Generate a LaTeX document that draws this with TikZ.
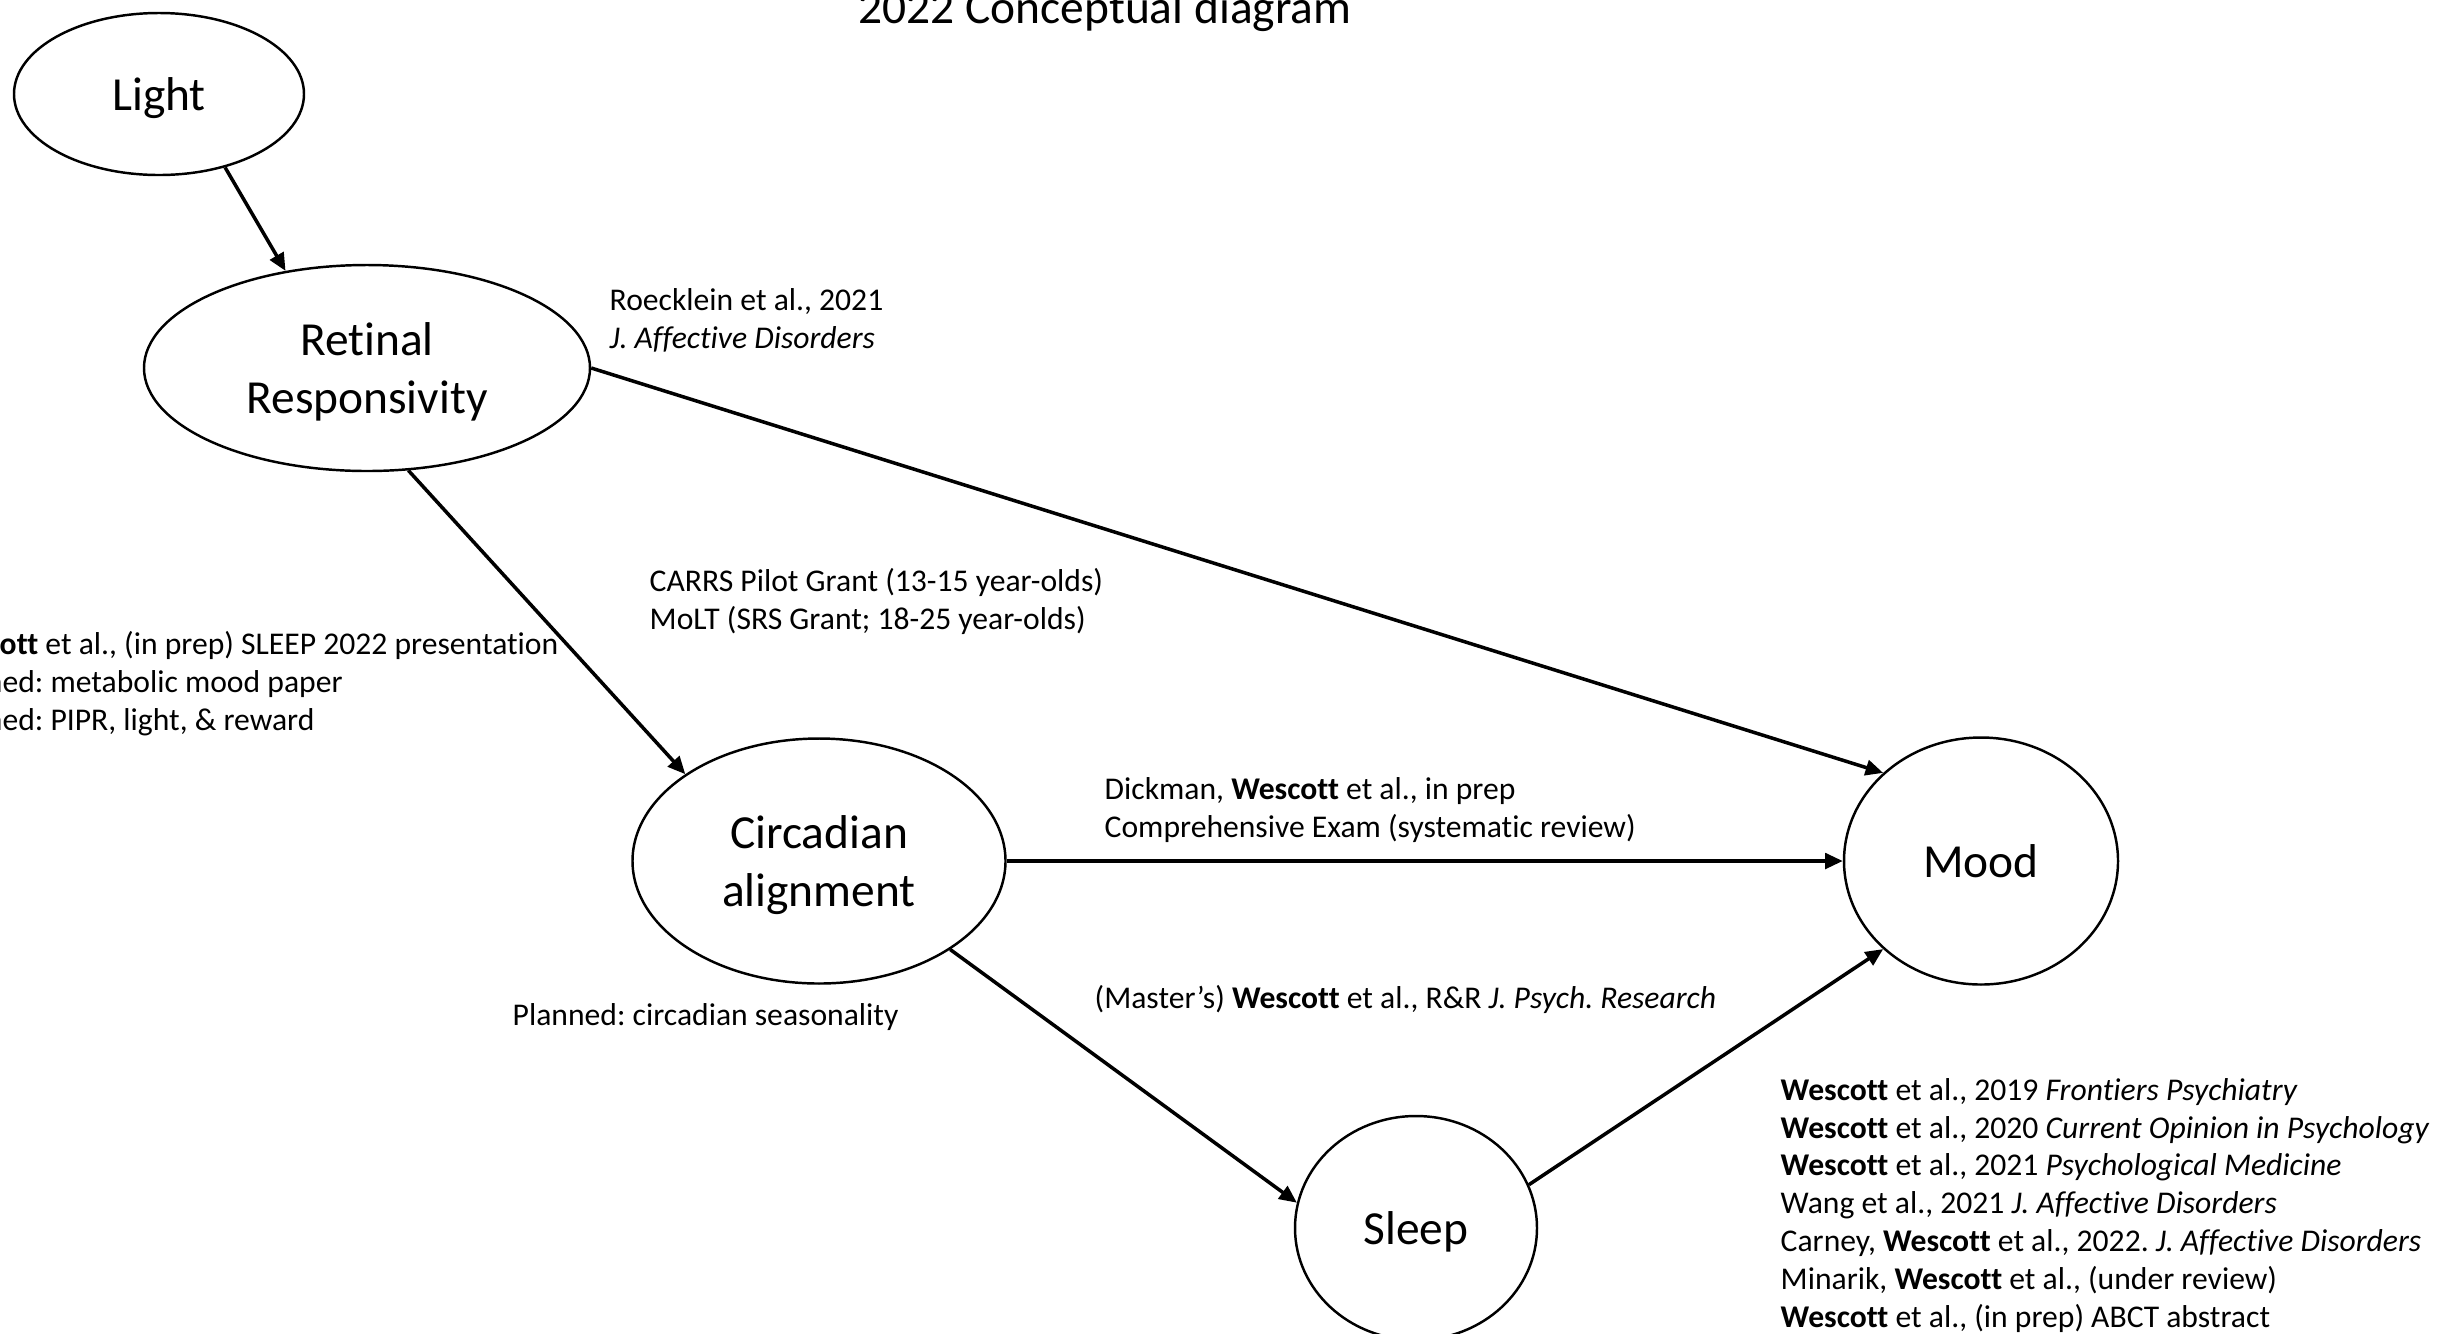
\documentclass[tikz,border=0pt]{standalone}
\usepackage{fontspec}
\setmainfont{Carlito}[Ligatures={NoCommon}]
\frenchspacing
\usetikzlibrary{shapes.geometric,arrows.meta}
\begin{document}
\frenchspacing
\begin{tikzpicture}[x=1cm,y=1cm,
  oval/.style={ellipse, draw, line width=0.7pt, inner sep=0pt, text depth=0pt, font=\fontsize{13.5}{16.5}\selectfont, align=center},
  conn/.style={line width=1pt, -{Triangle[length=5pt,width=4.4pt]}},
  lab/.style={font=\fontsize{9}{10.75}\selectfont, align=left, inner sep=0pt}]
\path[use as bounding box] (0,0) rectangle (24.48,-13.33);
\clip (0,0) rectangle (24.48,-13.33);
\node[anchor=base, font=\fontsize{13.5}{16.5}\selectfont, inner sep=0pt] (title) at (11.05,-0.23) {2022 Conceptual diagram};
\node[oval, minimum width=2.90cm, minimum height=1.62cm] (light) at (1.59,-0.94) {Light};
\node[oval, minimum width=4.46cm, minimum height=2.06cm] (ret) at (3.67,-3.68) {Retinal\\Responsivity};
\node[oval, minimum width=3.73cm, minimum height=2.45cm] (circad) at (8.19,-8.61) {Circadian\\alignment};
\node[oval, minimum width=2.74cm, minimum height=2.47cm] (mood) at (19.81,-8.61) {Mood};
\node[oval, minimum width=2.42cm, minimum height=2.24cm] (sleep) at (14.16,-12.28) {Sleep};
\draw[conn] (light.-48) -- (ret.130);
\draw[conn] (ret.-68) -- (circad.147);
\draw[conn] (ret.0) -- (mood.138);
\draw[conn] (circad.east) -- (mood.west);
\draw[conn] (circad.-34) -- (sleep.168);
\draw[conn] (sleep.21) -- (mood.222);
\node[lab, anchor=base west] (t1) at (6.09,-3.48) {Roecklein et al., 2021\\\textit{J. Affective Disorders}};
\node[lab, anchor=base west] (t2) at (6.49,-6.29) {CARRS Pilot Grant (13-15 year-olds)\\MoLT (SRS Grant; 18-25 year-olds)};
\node[lab, anchor=base east] (t3) at (5.59,-7.30) {\textbf{Wescott} et al., (in prep) SLEEP 2022 presentation\\Planned: metabolic mood paper\\Planned: PIPR, light, \& reward};
\node[lab, anchor=base west] (t4) at (11.04,-8.37) {Dickman, \textbf{Wescott} et al., in prep\\Comprehensive Exam (systematic review)};
\node[lab, anchor=base west] (t5) at (10.94,-10.08) {(Master’s) \textbf{Wescott} et al., R\&R \textit{J. Psych. Research}};
\node[lab, anchor=base west] (t6) at (5.12,-10.25) {Planned: circadian seasonality};
\node[lab, anchor=base west] (t7) at (17.80,-13.27) {\textbf{Wescott} et al., 2019 \textit{Frontiers Psychiatry}\\
\textbf{Wescott} et al., 2020 \textit{Current Opinion in Psychology}\\
\textbf{Wescott} et al., 2021 \textit{Psychological Medicine}\\
Wang et al., 2021 \textit{J. Affective Disorders}\\
Carney, \textbf{Wescott} et al., 2022. \textit{J. Affective Disorders}\\
Minarik, \textbf{Wescott} et al., (under review)\\
\textbf{Wescott} et al., (in prep) ABCT abstract};
\end{tikzpicture}
\end{document}
